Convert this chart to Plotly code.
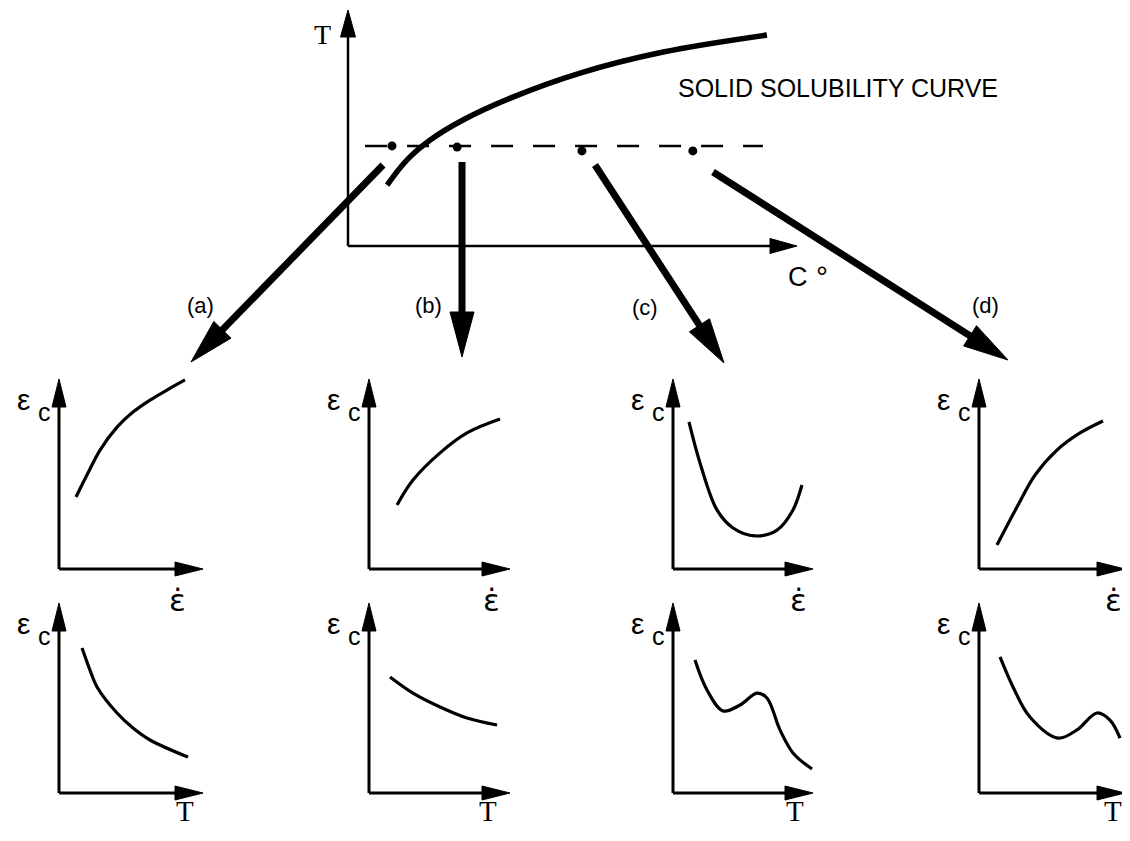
import math
import plotly.graph_objects as go

W, H = 1130, 841      # reference picture size (pixel coordinates used below)
OFF = 8               # the page body margin shifts the figure by 8 px
FW, FH = W - OFF, H - OFF

# ---------------- data (normalised axis units) ----------------
# main diagram: solid solubility curve, T vs C°
solvus_c = [0.087, 0.131, 0.183, 0.256, 0.367, 0.517, 0.702, 0.933]
solvus_t = [0.258, 0.364, 0.449, 0.534, 0.631, 0.733, 0.822, 0.894]
test_temp = 0.424
test_c_range = [0.038, 0.924]
alloy_c = [0.098, 0.243, 0.521, 0.768]
alloy_t = [0.424, 0.419, 0.403, 0.403]
case_labels = ["(a)", "(b)", "(c)", "(d)"]

# eps_c vs strain rate (upper row)
a_rate_x = [0.118, 0.201, 0.285, 0.403, 0.514, 0.632, 0.750, 0.875]
a_rate_y = [0.379, 0.505, 0.626, 0.747, 0.826, 0.889, 0.942, 0.995]
b_rate_x = [0.199, 0.312, 0.504, 0.695, 0.929]
b_rate_y = [0.337, 0.468, 0.611, 0.716, 0.789]
c_rate_x = [0.114, 0.193, 0.314, 0.429, 0.586, 0.743, 0.857, 0.921]
c_rate_y = [0.774, 0.558, 0.311, 0.216, 0.174, 0.205, 0.311, 0.442]
d_rate_x = [0.123, 0.260, 0.384, 0.534, 0.692, 0.849]
d_rate_y = [0.126, 0.326, 0.495, 0.626, 0.716, 0.779]

# eps_c vs temperature (lower row)
a_temp_x = [0.160, 0.215, 0.264, 0.403, 0.514, 0.632, 0.896]
a_temp_y = [0.763, 0.647, 0.558, 0.421, 0.342, 0.279, 0.189]
b_temp_x = [0.149, 0.312, 0.504, 0.695, 0.908]
b_temp_y = [0.611, 0.526, 0.453, 0.395, 0.358]
c_temp_x = [0.157, 0.243, 0.357, 0.479, 0.600, 0.671, 0.764, 0.857, 0.993]
c_temp_y = [0.700, 0.542, 0.432, 0.463, 0.526, 0.500, 0.332, 0.211, 0.126]
d_temp_x = [0.144, 0.233, 0.349, 0.541, 0.671, 0.808, 0.897, 0.966]
d_temp_y = [0.716, 0.558, 0.400, 0.289, 0.332, 0.421, 0.384, 0.289]

rate_curves = [(a_rate_x, a_rate_y), (b_rate_x, b_rate_y), (c_rate_x, c_rate_y), (d_rate_x, d_rate_y)]
temp_curves = [(a_temp_x, a_temp_y), (b_temp_x, b_temp_y), (c_temp_x, c_temp_y), (d_temp_x, d_temp_y)]

# ---------------- layout geometry (reference pixels) ----------------
PAD = 24
main_frame = dict(ox=348, oy=246, w=449, h=236)
panel_ox = [59, 369, 673, 979]
panel_w = [144, 141, 140, 146]
row_oy = [569, 793]
row_h = 190
rate_label_x = [177, 491, 798, 1113]
temp_label_x = [185, 488, 795, 1113]
case_label_pos = [(200, 305), (428, 305), (645, 307), (985, 305)]
# big arrows from the alloy points to the panels (canvas pixels)
case_arrows = [((383, 165), (191, 362)), ((462, 162), (462, 357)),
               ((595, 165), (724, 363)), ((713, 172), (1008, 360))]

SANS = "Liberation Sans, Arial, sans-serif"
SERIF = "Liberation Serif, Times New Roman, serif"
DEJAVU = "DejaVu Sans, sans-serif"

fig = go.Figure()
layout_axes = {}

# canvas axis (reference-pixel space) for connectors and labels
layout_axes["xaxis"] = dict(domain=[0, 1], range=[OFF, W], visible=False, fixedrange=True)
layout_axes["yaxis"] = dict(domain=[0, 1], range=[H, OFF], visible=False, fixedrange=True)
CANVAS = dict(ox=0, oy=0, w=1, h=-1)

axis_count = [1]


def new_axes(fr):
    axis_count[0] += 1
    n = axis_count[0]
    left = max(OFF, fr["ox"] - PAD)
    right = min(W, fr["ox"] + fr["w"] + PAD)
    bottom = min(H, fr["oy"] + PAD)
    top = max(OFF, fr["oy"] - fr["h"] - PAD)
    layout_axes[f"xaxis{n}"] = dict(
        domain=[(left - OFF) / FW, (right - OFF) / FW],
        range=[(left - fr["ox"]) / fr["w"], (right - fr["ox"]) / fr["w"]],
        visible=False, fixedrange=True, anchor=f"y{n}")
    layout_axes[f"yaxis{n}"] = dict(
        domain=[1 - (bottom - OFF) / FH, 1 - (top - OFF) / FH],
        range=[(fr["oy"] - bottom) / fr["h"], (fr["oy"] - top) / fr["h"]],
        visible=False, fixedrange=True, anchor=f"x{n}")
    return f"x{n}", f"y{n}"


def arrow(xa, ya, fr, p0, p1, lw, hl, hw):
    def to_px(x, y):
        return fr["ox"] + x * fr["w"], fr["oy"] - y * fr["h"]

    def from_px(px, py):
        return (px - fr["ox"]) / fr["w"], (fr["oy"] - py) / fr["h"]

    x0, y0 = to_px(*p0)
    x1, y1 = to_px(*p1)
    L = math.hypot(x1 - x0, y1 - y0)
    ux, uy = (x1 - x0) / L, (y1 - y0) / L
    bx, by = x1 - ux * hl, y1 - uy * hl
    sx, sy = bx + ux * 4, by + uy * 4
    nx, ny = -uy, ux
    shaft = [from_px(x0, y0), from_px(sx, sy)]
    tri = [from_px(x1, y1), from_px(bx + nx * hw / 2, by + ny * hw / 2),
           from_px(bx - nx * hw / 2, by - ny * hw / 2), from_px(x1, y1)]
    fig.add_trace(go.Scatter(x=[p[0] for p in shaft], y=[p[1] for p in shaft],
                             mode="lines", line=dict(color="black", width=lw),
                             xaxis=xa, yaxis=ya, hoverinfo="skip", showlegend=False))
    fig.add_trace(go.Scatter(x=[p[0] for p in tri], y=[p[1] for p in tri],
                             mode="lines", fill="toself", fillcolor="black",
                             line=dict(color="black", width=1),
                             xaxis=xa, yaxis=ya, hoverinfo="skip", showlegend=False))


annotations = []


def text(x, y, s, size, family=SANS, **kw):
    annotations.append(dict(x=x, y=y, xref="x", yref="y", text=s, showarrow=False,
                            font=dict(family=family, size=size, color="black"), **kw))


# ---------------- main diagram ----------------
mx, my = new_axes(main_frame)
arrow(mx, my, main_frame, (0, 0), (1, 0), 2.5, 27, 15)
arrow(mx, my, main_frame, (0, 0), (0, 1), 2.5, 27, 15)
fig.add_trace(go.Scatter(x=test_c_range, y=[test_temp, test_temp], mode="lines",
                         line=dict(color="black", width=2.5, dash="22px,20px"),
                         xaxis=mx, yaxis=my, hoverinfo="skip", showlegend=False))
fig.add_trace(go.Scatter(x=solvus_c, y=solvus_t, mode="lines",
                         line=dict(color="black", width=5.5, shape="spline", smoothing=1.0),
                         xaxis=mx, yaxis=my, hoverinfo="skip", showlegend=False))
fig.add_trace(go.Scatter(x=alloy_c, y=alloy_t, mode="markers",
                         marker=dict(color="black", size=9),
                         xaxis=mx, yaxis=my, hoverinfo="skip", showlegend=False))

text(322, 34, "T", 28, SERIF)
text(798, 277, "C", 27)
text(822, 276, "°", 30)
text(838, 88, "SOLID SOLUBILITY CURVE", 25)

# connecting arrows
for (p0, p1), lab, (lx, ly) in zip(case_arrows, case_labels, case_label_pos):
    arrow("x", "y", CANVAS, p0, p1, 7, 45, 24)
    text(lx, ly, lab, 22)

# ---------------- small panels ----------------
for i in range(4):
    for r, curves in enumerate([rate_curves, temp_curves]):
        fr = dict(ox=panel_ox[i], oy=row_oy[r], w=panel_w[i], h=row_h)
        xa, ya = new_axes(fr)
        arrow(xa, ya, fr, (0, 0), (1, 0), 3, 28, 14)
        arrow(xa, ya, fr, (0, 0), (0, 1), 3, 28, 14)
        cx, cy = curves[i]
        fig.add_trace(go.Scatter(x=cx, y=cy, mode="lines",
                                 line=dict(color="black", width=3.2, shape="spline", smoothing=1.0),
                                 xaxis=xa, yaxis=ya, hoverinfo="skip", showlegend=False))
        tip = row_oy[r] - row_h
        text(panel_ox[i] - 36, tip + 20, "ε", 30)
        text(panel_ox[i] - 15, tip + 33, "c", 25)
        if r == 0:
            text(rate_label_x[i], row_oy[r] + 31, "\u03b5\u0307", 31, DEJAVU)
        else:
            text(temp_label_x[i], row_oy[r] + 18, "T", 29, SERIF)

fig.update_layout(width=FW, height=FH, margin=dict(l=0, r=0, t=0, b=0),
                  paper_bgcolor="white", plot_bgcolor="rgba(0,0,0,0)",
                  showlegend=False, annotations=annotations, **layout_axes)

fig.write_html("out.html")
